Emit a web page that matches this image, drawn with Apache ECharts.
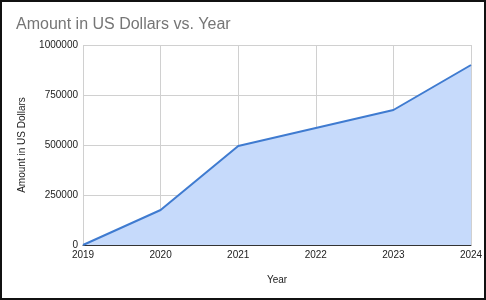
<!DOCTYPE html>
<html><head><meta charset="utf-8">
<script src="https://cdn.jsdelivr.net/npm/echarts@6/dist/echarts.min.js"></script>
<style>
html,body{margin:0;padding:0;background:#fff;}
#c{width:486px;height:300px;}
#frame{position:absolute;left:0;top:0;width:486px;height:300px;box-sizing:border-box;border:2px solid #111;pointer-events:none;}
</style></head>
<body>
<div id="c"></div><div id="frame"></div>
<script>
const years = ['2019','2020','2021','2022','2023','2024'];
const amounts = [0, 175000, 495000, 585000, 675000, 900000];
const yTicks = [0, 250000, 500000, 750000, 1000000];

const chart = echarts.init(document.getElementById('c'));
chart.setOption({
  animation: false,
  backgroundColor: '#fff',
  title: {
    text: 'Amount in US Dollars vs. Year',
    left: 11, top: 12,
    textStyle: {fontFamily: 'Liberation Sans, Arial', fontSize: 16, fontWeight: 'normal', color: '#757575'}
  },
  grid: {left: 83, right: 15, top: 45, bottom: 55},
  xAxis: {
    type: 'category', data: years, boundaryGap: false,
    name: 'Year', nameLocation: 'middle', nameGap: 30,
    nameTextStyle: {fontFamily: 'Liberation Sans, Arial', fontSize: 10, color: '#222'},
    axisLine: {lineStyle: {color: '#333', width: 1}},
    axisTick: {show: false},
    axisLabel: {fontFamily: 'Liberation Sans, Arial', fontSize: 10, color: '#222', margin: 5, interval: 0},
    splitLine: {show: true, lineStyle: {color: '#d0d0d0'}}
  },
  yAxis: {
    type: 'value', min: yTicks[0], max: yTicks[yTicks.length-1], interval: 250000,
    name: 'Amount in US Dollars', nameLocation: 'middle', nameGap: 56,
    nameTextStyle: {fontFamily: 'Liberation Sans, Arial', fontSize: 10, color: '#222'},
    axisLine: {show: false}, axisTick: {show: false},
    axisLabel: {fontFamily: 'Liberation Sans, Arial', fontSize: 10, color: '#222', margin: 5, formatter: v => String(v)},
    splitLine: {lineStyle: {color: '#d0d0d0'}}
  },
  series: [{
    type: 'line', data: amounts, symbol: 'none',
    lineStyle: {color: '#3f7bd0', width: 2},
    areaStyle: {color: '#c6dafb', opacity: 1}
  }]
});
</script>
</body></html>
